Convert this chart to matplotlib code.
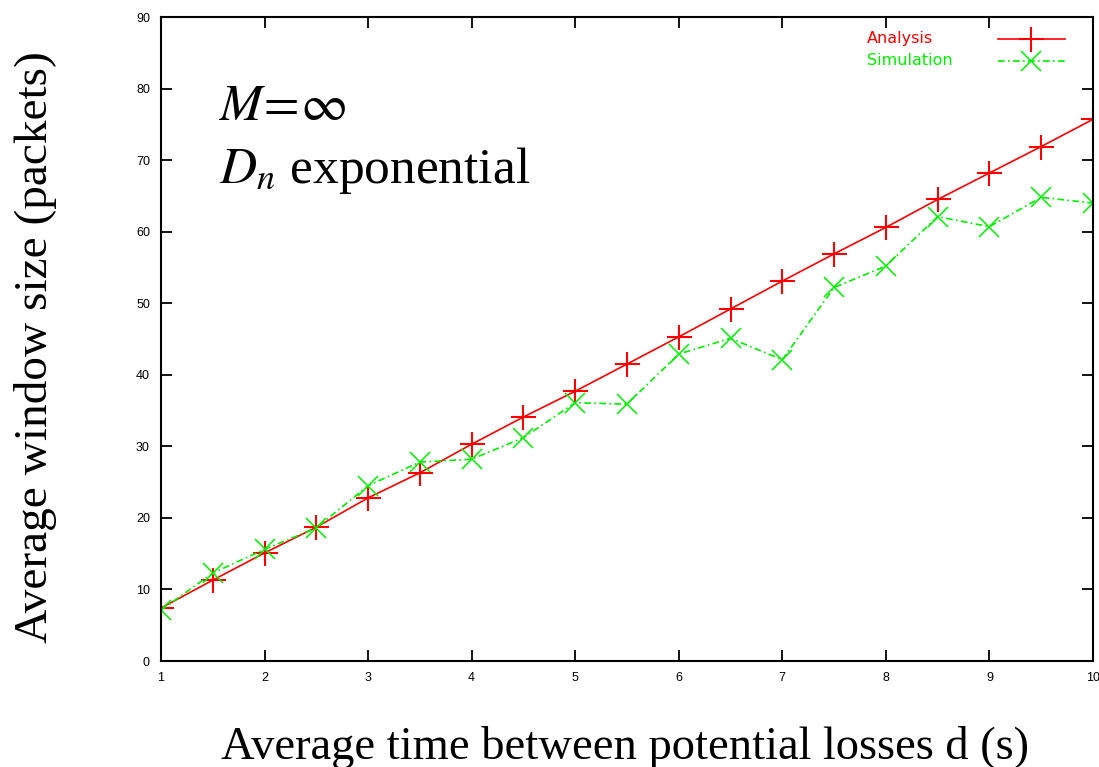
import matplotlib
matplotlib.use("Agg")
import matplotlib.pyplot as plt

plt.rcParams.update({
    "font.family": "Liberation Sans",
    "mathtext.fontset": "stix",
})

# ── Data ──────────────────────────────────────────────────────────────────────
d_values = [1, 1.5, 2, 2.5, 3, 3.5, 4, 4.5, 5, 5.5, 6, 6.5, 7, 7.5, 8, 8.5, 9, 9.5, 10]
analysis = [7.4, 11.3, 15.1, 18.7, 22.8, 26.3, 30.3, 34.1, 37.7, 41.5, 45.3,
            49.2, 53.1, 56.9, 60.6, 64.5, 68.2, 71.9, 75.7]
simulation = [7.1, 12.3, 15.6, 18.6, 24.5, 27.8, 28.2, 31.2, 36.1, 35.9, 42.9,
              45.1, 42.1, 52.2, 55.2, 62.1, 60.7, 64.8, 64.0]
series_names = ["Analysis", "Simulation"]
x_ticks = list(range(1, 11))
y_ticks = list(range(0, 91, 10))

RED, GREEN = "#ff0000", "#00ee00"
styles = [
    dict(color=RED, linewidth=1.2, marker="+", markersize=18, markeredgewidth=1.5),
    dict(color=GREEN, linewidth=1.2, marker="x", markersize=15, markeredgewidth=1.1,
         dashes=(4, 2, 1, 2)),
]

fig = plt.figure(figsize=(10.99, 7.67), dpi=100)
ax = fig.add_axes([0.1465, 0.1382, 0.848, 0.8396])

for ys, name, st in zip([analysis, simulation], series_names, styles):
    ax.plot(d_values, ys, label=name, **st)

ax.set_xlim(1, 10)
ax.set_ylim(0, 90)
ax.set_xticks(x_ticks)
ax.set_yticks(y_ticks)
ax.tick_params(direction="in", length=8, width=1.3, top=True, right=True,
               labelsize=9, pad=8)
for s in ax.spines.values():
    s.set_linewidth(1.5)

# axis titles, placed in figure pixels to match the reference
fig.text(36 / 1099, 1 - 347 / 767, "Average window size (packets)",
         family="Liberation Serif", fontsize=34, rotation=90,
         ha="center", va="center")
fig.text(625 / 1099, 1 - 759 / 767, "Average time between potential losses d (s)",
         family="Liberation Serif", fontsize=33.5, ha="center", va="baseline")

ax.text(0.062, 0.84, r"$M\!=\!\infty$", transform=ax.transAxes,
        fontsize=37, va="baseline")
ax.text(0.062, 0.742, r"$D_n$ exponential", transform=ax.transAxes,
        fontsize=37, va="baseline", family="Liberation Serif")

# gnuplot-style key: left-aligned coloured labels, sample line on the right
for i, (name, st) in enumerate(zip(series_names, styles)):
    ky = 0.966 - i * 0.034
    ax.text(0.7575, ky, name, transform=ax.transAxes, color=st["color"],
            family="DejaVu Sans", fontsize=11.5, va="center", ha="left")
    ax.plot([0.898, 0.934, 0.970], [ky, ky, ky], transform=ax.transAxes,
            markevery=[1], clip_on=False, **st)

fig.savefig("out.png", dpi=100)
